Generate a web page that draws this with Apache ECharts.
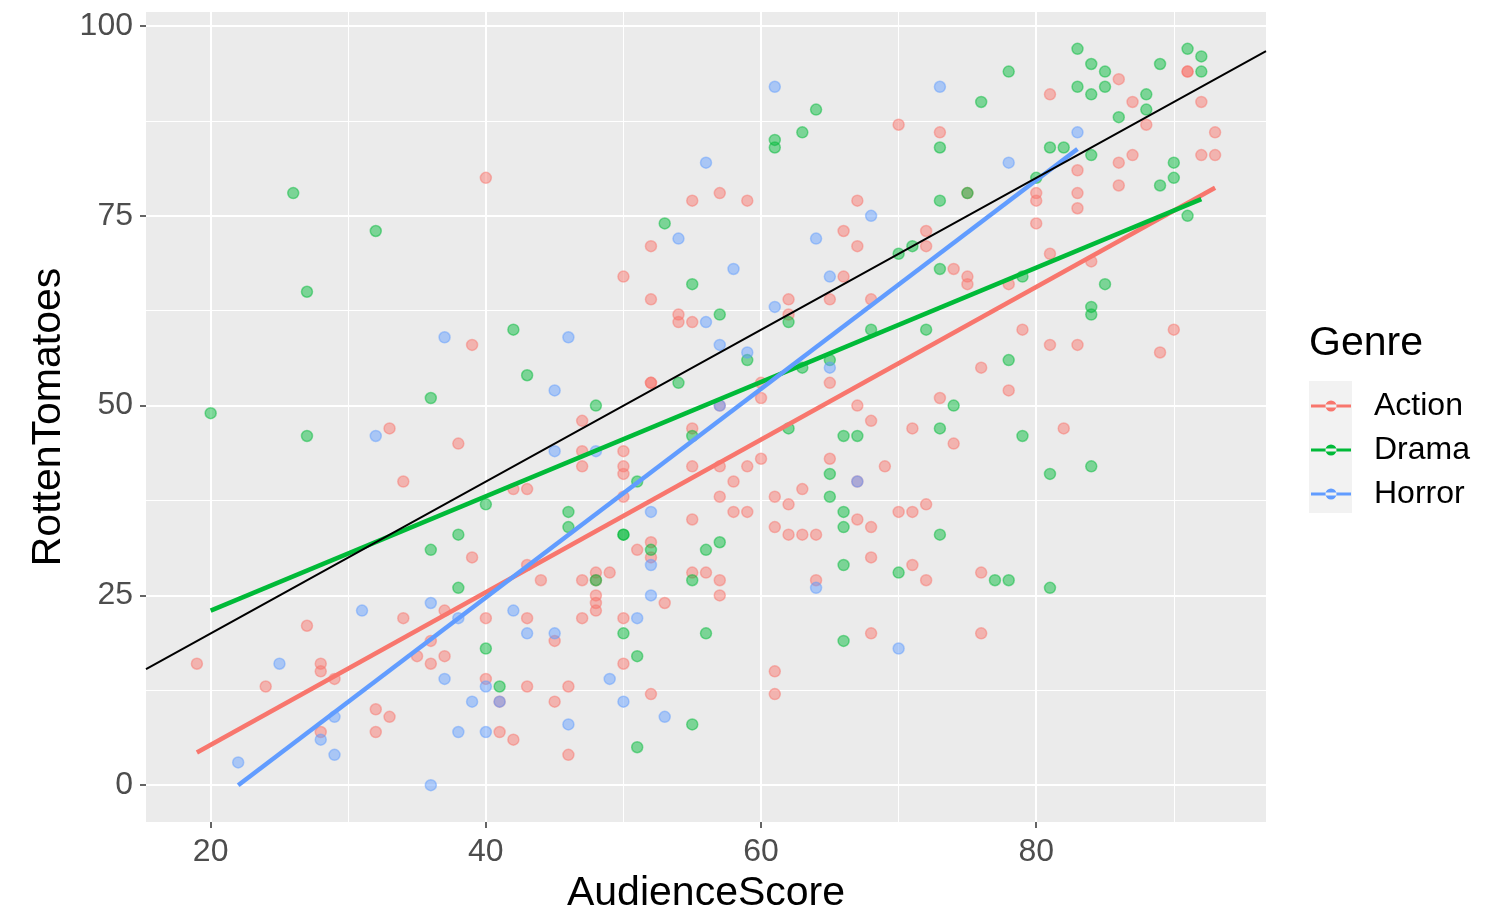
<!DOCTYPE html>
<html>
<head>
<meta charset="utf-8">
<title>AudienceScore vs RottenTomatoes</title>
<script src="https://cdn.jsdelivr.net/npm/echarts@6.0.0/dist/echarts.min.js"></script>
<style>
  html, body { margin: 0; padding: 0; background: #fff; }
  #scatter-chart { width: 1512px; height: 910px; }
</style>
</head>
<body>
<div id="scatter-chart"></div>
<script>
// [AudienceScore, RottenTomatoes] per genre
var actionPoints = [
    [19,16],[24,13],[27,21],[28,16],[28,15],[28,7],[29,14],[32,10],[32,7],[33,47],[33,9],
    [34,40],[34,22],[35,17],[36,16],[36,19],[37,23],[37,17],[38,45],[39,58],[39,30],[40,80],
    [40,22],[40,14],[41,7],[41,11],[42,39],[42,6],[43,39],[43,29],[43,22],[43,13],[44,27],
    [45,19],[45,11],[46,13],[46,4],[47,48],[47,44],[47,42],[47,27],[47,22],[48,28],[48,27],
    [48,25],[48,24],[48,23],[49,28],[50,67],[50,44],[50,42],[50,41],[50,38],[50,22],[50,16],
    [51,31],[52,71],[52,64],[52,53],[52,53],[52,32],[52,30],[52,12],[53,24],[54,62],[54,61],
    [55,77],[55,61],[55,47],[55,42],[55,35],[55,28],[56,28],[57,78],[57,50],[57,42],[57,38],
    [57,27],[57,25],[58,40],[58,36],[59,77],[59,42],[59,36],[60,53],[60,51],[60,43],[61,38],
    [61,34],[61,15],[61,12],[62,64],[62,62],[62,37],[62,33],[63,39],[63,33],[64,33],[64,27],
    [65,64],[65,53],[65,43],[66,73],[66,67],[67,77],[67,71],[67,50],[67,40],[67,35],[68,64],
    [68,48],[68,34],[68,30],[68,20],[69,42],[70,87],[70,36],[71,47],[71,36],[71,29],[72,73],
    [72,71],[72,37],[72,27],[73,86],[73,51],[74,68],[74,45],[75,78],[75,67],[75,66],[76,55],
    [76,28],[76,20],[78,66],[78,52],[79,60],[80,78],[80,77],[80,74],[81,91],[81,70],[81,58],
    [82,47],[83,81],[83,78],[83,76],[83,58],[84,69],[86,93],[86,82],[86,79],[87,90],[87,83],
    [88,87],[89,57],[90,60],[91,94],[91,94],[92,90],[92,83],[93,86],[93,83]
];
var dramaPoints = [
    [20,49],[26,78],[27,65],[27,46],[32,73],[36,51],[36,31],[38,33],[38,26],[40,37],[40,18],
    [41,13],[42,60],[43,54],[46,36],[46,34],[48,50],[48,27],[50,33],[50,33],[50,20],[51,40],
    [51,17],[51,5],[52,31],[53,74],[54,53],[55,66],[55,46],[55,27],[55,8],[56,31],[56,20],
    [57,62],[57,32],[59,56],[61,85],[61,84],[62,61],[62,47],[63,86],[63,55],[64,89],[65,56],
    [65,41],[65,38],[66,46],[66,36],[66,34],[66,29],[66,19],[67,46],[68,60],[70,70],[70,28],
    [71,71],[72,60],[73,84],[73,77],[73,68],[73,47],[73,33],[74,50],[75,78],[76,90],[77,27],
    [78,94],[78,56],[78,27],[79,67],[79,46],[80,80],[81,84],[81,41],[81,26],[82,84],[83,97],
    [83,92],[84,95],[84,91],[84,83],[84,63],[84,62],[84,42],[85,94],[85,92],[85,66],[86,88],
    [88,91],[88,89],[89,95],[89,79],[90,82],[90,80],[91,97],[91,75],[92,96],[92,94]
];
var horrorPoints = [
    [22,3],[25,16],[28,6],[29,9],[29,4],[31,23],[32,46],[36,24],[36,0],[37,59],[37,14],
    [38,22],[38,7],[39,11],[40,13],[40,7],[41,11],[42,23],[43,20],[45,52],[45,44],[45,20],
    [46,59],[46,8],[48,44],[49,14],[50,11],[51,22],[52,36],[52,29],[52,25],[53,9],[54,72],
    [56,82],[56,61],[57,58],[57,50],[58,68],[59,57],[61,92],[61,63],[64,72],[64,26],[65,67],
    [65,55],[67,40],[68,75],[70,18],[73,92],[78,82],[83,86]
];

// linear fit end points per genre (as drawn) and the y = x reference
var actionFit = [[19, 4.3], [93, 78.7]];
var dramaFit = [[20, 23.0], [92, 77.2]];
var horrorFit = [[22, 0.0], [83, 83.8]];
var identityLine = [[15.3, 15.3], [96.7, 96.7]];

var genres = ['Action', 'Drama', 'Horror'];
var genreColors = ['#F8766D', '#00BA38', '#619CFF'];
var genreFills = ['rgba(248,118,109,0.6)', 'rgba(0,186,56,0.6)', 'rgba(97,156,255,0.6)'];

// axis breaks
var xTicks = [20, 40, 60, 80];
var xMinorTicks = [30, 50, 70, 90];
var yTicks = [0, 25, 50, 75, 100];
var yMinorTicks = [12.5, 37.5, 62.5, 87.5];

var fontFamily = '"Liberation Sans", Arial, sans-serif';
var keyIcon = 'path://M0,4.5h40v3h-40z M14.5,6a5.5,5.5 0 1,0 11,0a5.5,5.5 0 1,0 -11,0z';

var scatterChart = echarts.init(document.getElementById('scatter-chart'));

var xRange = { min: 15.3, max: 96.7 };
var yRange = { min: -4.85, max: 101.85 };

var option = {
    animation: false,
    backgroundColor: '#ffffff',
    textStyle: { fontFamily: fontFamily },

    // Legend title
    title: {
        text: 'Genre',
        left: 1309,
        top: 323,
        padding: 0,
        textStyle: { fontSize: 41, fontWeight: 'normal', color: '#000', fontFamily: fontFamily }
    },

    // grey key background
    graphic: [{
        type: 'rect',
        left: 1309,
        top: 381,
        z: 0,
        shape: { width: 43, height: 132 },
        style: { fill: '#F2F2F2' }
    }],

    legend: {
        orient: 'vertical',
        left: 1311,
        top: 390,
        padding: 0,
        itemWidth: 40,
        itemHeight: 12,
        itemGap: 12,
        textStyle: { fontSize: 32, lineHeight: 32, color: '#000', fontFamily: fontFamily, padding: [0, 0, 0, 18] },
        data: genres.map(function (g, i) {
            return { name: g, icon: keyIcon, itemStyle: { color: genreColors[i], opacity: 1, borderWidth: 0 } };
        })
    },

    grid: {
        left: 146,
        right: 246,
        top: 12,
        bottom: 88,
        show: true,
        backgroundColor: '#EBEBEB',
        borderWidth: 0,
        outerBoundsMode: 'none',
        containLabel: false
    },

    xAxis: [{
        type: 'value',
        position: 'bottom',
        min: xRange.min,
        max: xRange.max,
        name: 'AudienceScore',
        nameLocation: 'middle',
        nameGap: 49,
        nameTextStyle: { fontSize: 41, color: '#000', fontFamily: fontFamily },
        axisLine: { show: false, onZero: false },
        axisTick: { show: true, inside: false, length: 6, lineStyle: { color: '#333', width: 1.5 }, customValues: xTicks },
        axisLabel: { fontSize: 32, color: '#4D4D4D', margin: 14, customValues: xTicks, fontFamily: fontFamily },
        splitLine: { show: true, lineStyle: { color: '#fff', width: 2 } }
    }, {
        type: 'value',
        position: 'top',
        min: xRange.min,
        max: xRange.max,
        axisLine: { show: false, onZero: false },
        axisTick: { show: false, customValues: xMinorTicks },
        axisLabel: { show: false, customValues: xMinorTicks },
        splitLine: { show: true, lineStyle: { color: '#fff', width: 1 } }
    }],

    yAxis: [{
        type: 'value',
        position: 'left',
        min: yRange.min,
        max: yRange.max,
        name: 'RottenTomatoes',
        nameLocation: 'middle',
        nameRotate: 90,
        nameGap: 75,
        nameTextStyle: { fontSize: 41, color: '#000', fontFamily: fontFamily },
        axisLine: { show: false, onZero: false },
        axisTick: { show: true, inside: false, length: 6, lineStyle: { color: '#333', width: 1.5 }, customValues: yTicks },
        axisLabel: { fontSize: 32, color: '#4D4D4D', margin: 13, customValues: yTicks, fontFamily: fontFamily },
        splitLine: { show: true, lineStyle: { color: '#fff', width: 2 } }
    }, {
        type: 'value',
        position: 'right',
        min: yRange.min,
        max: yRange.max,
        axisLine: { show: false, onZero: false },
        axisTick: { show: false, customValues: yMinorTicks },
        axisLabel: { show: false, customValues: yMinorTicks },
        splitLine: { show: true, lineStyle: { color: '#fff', width: 1 } }
    }],

    // Add series
    series: []
};

var pointSets = [actionPoints, dramaPoints, horrorPoints];
var fitSets = [actionFit, dramaFit, horrorFit];

genres.forEach(function (g, i) {
    option.series.push({
        name: g,
        type: 'scatter',
        xAxisIndex: 0,
        yAxisIndex: 0,
        symbolSize: 11,
        itemStyle: { color: genreFills[i], borderColor: genreFills[i], borderWidth: 1.5 },
        emphasis: { disabled: true },
        data: pointSets[i],
        z: 3
    });
});

genres.forEach(function (g, i) {
    option.series.push({
        name: g,
        type: 'line',
        xAxisIndex: 0,
        yAxisIndex: 0,
        showSymbol: false,
        lineStyle: { color: genreColors[i], width: 4.5 },
        itemStyle: { color: genreColors[i] },
        data: fitSets[i],
        z: 4
    });
});

option.series.push({
    name: 'identity',
    type: 'line',
    xAxisIndex: 0,
    yAxisIndex: 0,
    showSymbol: false,
    lineStyle: { color: '#000', width: 2 },
    data: identityLine,
    z: 5
});

scatterChart.setOption(option);
</script>
</body>
</html>
